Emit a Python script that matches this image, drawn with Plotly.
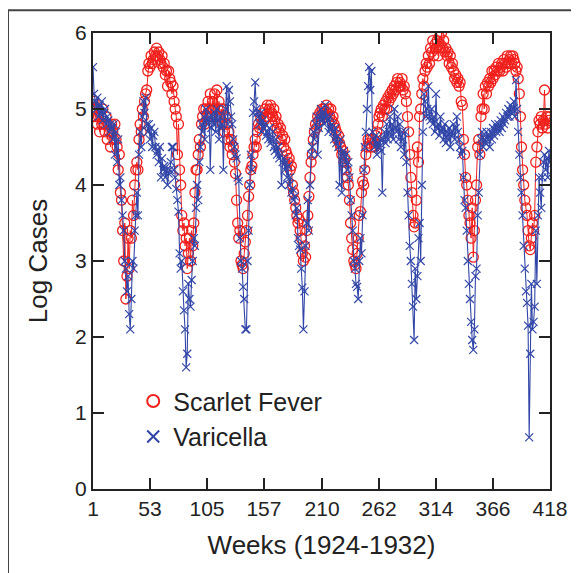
import plotly.graph_objects as go

weeks = list(range(1, 419))

scarlet_fever = [
    5.0, 5.1, 4.9, 5.0, 4.8, 4.9, 4.7, 4.9, 4.8, 5.0,
    4.8, 4.7, 4.9, 4.6, 4.8, 4.7, 4.5, 4.8, 4.7, 4.6,
    4.8, 4.6, 4.5, 4.2, 4.4, 3.9, 3.8, 3.4, 3.0, 3.5,
    2.5, 2.8, 3.3, 2.9, 3.4, 3.3, 3.8, 3.6, 4.0, 4.2,
    4.3, 4.2, 4.6, 4.8, 4.7, 5.0, 4.9, 5.1, 5.2, 5.25,
    5.5, 5.6, 5.55, 5.7, 5.6, 5.65, 5.75, 5.7, 5.8, 5.7,
    5.75, 5.65, 5.6, 5.7, 5.55, 5.6, 5.45, 5.5, 5.3, 5.5,
    5.4, 5.35, 5.2, 5.3, 5.1, 5.0, 4.9, 4.4, 4.8, 4.2,
    4.0, 3.6, 3.4, 3.5, 3.2, 3.3, 2.9, 3.1, 3.3, 3.0,
    3.4, 3.2, 3.5, 3.9, 4.2, 4.2, 4.4, 4.6, 4.5, 4.8,
    4.9, 5.0, 4.8, 5.0, 4.9, 5.1, 5.0, 5.2, 4.9, 5.1,
    5.0, 5.2, 4.9, 5.25, 5.0, 5.1, 4.9, 5.0, 4.8, 5.0,
    4.7, 4.9, 4.8, 4.6, 4.7, 4.5, 4.6, 4.4, 4.5, 4.3,
    4.15, 3.8, 3.5, 3.3, 3.4, 3.0, 2.95, 2.9, 3.1, 3.25,
    3.4, 3.6, 3.85, 4.0, 4.2, 4.25, 4.4, 4.5, 4.6, 4.5,
    4.7, 4.8, 4.75, 4.9, 4.8, 4.95, 4.85, 5.0, 4.9, 5.05,
    4.9, 5.0, 5.05, 4.95, 4.9, 5.0, 4.85, 4.9, 4.75, 4.8,
    4.7, 4.75, 4.6, 4.65, 4.5, 4.6, 4.45, 4.4, 4.3, 4.35,
    4.2, 4.25, 4.0, 3.9, 3.8, 3.7, 3.6, 3.5, 3.55, 3.4,
    3.3, 3.1, 3.0, 3.2, 3.05, 3.4, 3.6, 3.85, 4.1, 4.3,
    4.4, 4.6, 4.7, 4.8, 4.75, 4.9, 4.85, 4.95, 4.9, 5.0,
    4.95, 5.0, 4.9, 5.05, 4.95, 5.0, 4.9, 5.0, 4.85, 4.9,
    4.8, 4.75, 4.7, 4.6, 4.65, 4.55, 4.5, 4.4, 4.45, 4.3,
    4.35, 4.2, 4.1, 4.0, 3.8, 3.5, 3.3, 3.15, 3.0, 2.95,
    2.9, 3.1, 3.3, 3.6, 3.65, 3.9, 4.05, 4.0, 4.2, 4.4,
    4.5, 4.6, 4.55, 4.6, 4.5, 4.6, 4.55, 4.5, 4.65, 4.7,
    4.8, 4.9, 4.95, 5.0, 4.9, 5.05, 5.0, 5.1, 5.0, 5.15,
    5.1, 5.2, 5.15, 5.25, 5.2, 5.3, 5.25, 5.35, 5.4, 5.3,
    5.35, 5.3, 5.4, 5.25, 5.3, 5.2, 5.1, 4.9, 4.7, 4.4,
    4.1, 3.9, 3.6, 3.45, 3.5, 3.8, 4.5, 4.3, 4.9, 5.0,
    5.2, 5.4, 5.3, 5.5, 5.6, 5.55, 5.7, 5.6, 5.8, 5.75,
    5.9, 5.7, 5.85, 5.8, 5.9, 5.7, 5.95, 5.85, 6.0, 5.8,
    5.9, 5.75, 5.8, 5.7, 5.75, 5.6, 5.7, 5.55, 5.6, 5.5,
    5.4, 5.45, 5.35, 5.4, 5.3, 5.35, 5.1, 5.05, 4.6, 4.4,
    4.1, 4.0, 3.8, 3.6, 3.5, 3.3, 3.7, 3.05, 3.4, 3.8,
    4.0, 4.5, 4.6, 4.4, 4.9, 5.0, 5.2, 5.0, 5.3, 5.2,
    5.35, 5.3, 5.4, 5.35, 5.5, 5.4, 5.5, 5.45, 5.55, 5.5,
    5.6, 5.5, 5.55, 5.6, 5.5, 5.65, 5.6, 5.55, 5.7, 5.6,
    5.65, 5.7, 5.6, 5.7, 5.65, 5.6, 5.5, 5.55, 5.4, 5.2,
    4.9, 4.5, 4.2, 4.0, 3.8, 3.7, 3.6, 3.4, 3.2, 3.15,
    3.3, 3.5, 3.4, 3.6, 4.3, 4.5, 4.7, 4.85, 4.8, 4.9,
    4.75, 4.85, 5.25, 4.8, 4.9, 4.75, 4.85, 4.9,
]

varicella = [
    5.55, 5.2, 5.1, 5.0, 5.15, 4.9, 5.05, 4.95, 5.1, 4.85,
    4.95, 5.0, 4.8, 4.9, 4.85, 4.7, 4.8, 4.75, 4.6, 4.8,
    4.4, 4.7, 4.3, 4.6, 4.0, 4.1, 3.8, 3.6, 3.4, 3.0,
    2.9, 2.6, 2.8, 2.3, 2.1, 2.5, 3.0, 2.9, 3.4, 3.6,
    3.9, 3.6, 4.4, 4.7, 4.5, 4.9, 5.1, 4.95, 5.15, 4.8,
    4.7, 4.8, 4.6, 4.75, 4.5, 4.65, 4.7, 4.5, 4.4, 4.45,
    4.3, 4.5, 4.1, 4.35, 4.2, 4.25, 4.1, 4.2, 4.0, 4.15,
    4.2, 4.3, 4.5, 4.5, 4.2, 4.1, 3.95, 3.8, 3.65, 3.1,
    2.9, 3.0, 2.6, 2.35, 2.1, 1.6, 1.78, 2.7, 2.5, 2.4,
    2.75, 3.0, 3.3, 3.2, 3.7, 4.0, 3.8, 4.3, 4.5, 4.8,
    4.7, 4.9, 4.6, 5.0, 4.85, 4.8, 4.9, 4.2, 4.75, 4.9,
    4.8, 4.95, 4.7, 5.0, 4.85, 4.6, 4.9, 4.75, 4.8, 4.2,
    4.9, 5.0, 5.3, 4.8, 5.25, 5.1, 4.9, 4.8, 4.6, 4.5,
    4.4, 4.35, 4.1, 4.05, 3.3, 3.0, 2.9, 2.66, 2.5, 2.1,
    2.1, 3.0, 3.4, 4.0, 4.4, 4.2, 4.95, 5.1, 5.35, 5.0,
    4.95, 4.9, 4.8, 4.95, 4.7, 4.85, 4.75, 4.8, 4.65, 4.7,
    4.6, 4.75, 4.55, 4.6, 4.7, 4.5, 4.45, 4.6, 4.4, 4.5,
    4.35, 4.4, 4.0, 4.3, 4.35, 4.2, 4.3, 4.1, 4.25, 4.0,
    4.1, 3.9, 3.95, 3.8, 3.85, 3.6, 3.7, 3.3, 3.2, 3.15,
    2.9, 2.65, 2.1, 2.6, 3.2, 3.5, 3.8, 3.4, 4.0, 4.4,
    4.5, 4.7, 4.6, 4.8, 4.9, 4.4, 4.75, 4.9, 5.0, 4.85,
    4.95, 4.8, 5.05, 4.9, 4.85, 4.7, 4.9, 4.75, 4.8, 4.7,
    4.6, 4.75, 4.55, 4.65, 4.5, 4.0, 4.6, 3.9, 4.4, 4.45,
    4.3, 4.4, 4.2, 4.3, 4.1, 3.8, 3.6, 3.4, 3.0, 2.9,
    2.7, 2.66, 2.5, 3.0, 3.3, 3.1, 3.6, 4.2, 4.5, 4.7,
    5.0, 5.3, 5.55, 5.25, 5.5, 4.7, 4.6, 4.5, 4.65, 4.4,
    4.55, 4.5, 4.6, 4.45, 3.9, 4.6, 4.7, 4.55, 4.8, 4.6,
    4.7, 4.9, 4.65, 4.8, 4.6, 5.0, 4.75, 4.7, 4.9, 4.6,
    4.8, 4.5, 4.7, 4.6, 4.4, 4.7, 4.3, 3.9, 3.6, 3.2,
    3.0, 2.7, 2.4, 1.96, 2.9, 2.5, 2.8, 3.3, 3.5, 3.0,
    4.0, 4.7, 5.2, 5.1, 4.9, 5.0, 5.3, 4.9, 4.85, 5.0,
    4.8, 4.9, 4.7, 5.2, 4.75, 4.8, 4.65, 4.9, 4.7, 4.75,
    4.6, 4.8, 4.55, 4.7, 4.6, 4.75, 4.5, 4.7, 4.65, 4.8,
    4.6, 4.75, 4.9, 4.7, 4.6, 4.5, 4.4, 4.45, 4.1, 3.8,
    3.7, 3.4, 3.0, 2.7, 2.5, 2.2, 1.96, 1.83, 2.1, 2.8,
    2.9, 3.6, 3.9, 4.4, 4.6, 4.7, 4.5, 4.6, 4.55, 4.7,
    4.6, 4.65, 4.5, 4.7, 4.6, 4.75, 4.65, 4.8, 4.7, 4.75,
    4.8, 4.7, 4.85, 4.75, 4.9, 4.8, 4.85, 4.95, 4.9, 5.0,
    4.9, 5.05, 4.95, 5.0, 5.1, 4.9, 5.38, 5.0, 4.7, 4.4,
    4.1, 3.9, 3.6, 3.2, 2.9, 2.6, 2.45, 2.15, 0.68, 1.78,
    2.7, 2.1, 2.2, 2.4, 3.4, 2.7, 3.6, 4.1, 3.9, 3.7,
    4.1, 4.3, 4.4, 4.2, 4.35, 4.1, 4.45, 4.3,
]

x_ticks = [1, 53, 105, 157, 210, 262, 314, 366, 418]
y_ticks = [0, 1, 2, 3, 4, 5, 6]

RED = "#f0201c"
BLUE = "#3246a8"
FONT = "Liberation Sans, Arial, sans-serif"
TXT = "#222"

fig = go.Figure()
fig.add_trace(go.Scatter(x=weeks, y=scarlet_fever, mode="lines",
                         line=dict(color=RED, width=1), showlegend=False, hoverinfo="skip"))
fig.add_trace(go.Scatter(x=weeks, y=scarlet_fever, mode="markers", name="Scarlet Fever",
                         marker=dict(symbol="circle-open", size=10, color=RED, line=dict(width=1.3))))
fig.add_trace(go.Scatter(x=weeks, y=varicella, mode="lines",
                         line=dict(color=BLUE, width=1.1), showlegend=False, hoverinfo="skip"))
fig.add_trace(go.Scatter(x=weeks, y=varicella, mode="markers", name="Varicella",
                         marker=dict(symbol="x-thin-open", size=8, color=BLUE, line=dict(width=1.2, color=BLUE))))

axis_common = dict(showline=True, linecolor=TXT, linewidth=2, mirror="ticks",
                   ticks="inside", ticklen=11, tickwidth=2, tickcolor=TXT,
                   showgrid=False, zeroline=False, automargin=False,
                   tickfont=dict(family=FONT, size=21, color=TXT))

fig.update_xaxes(range=[1, 418], tickvals=x_ticks, ticktext=[str(t) for t in x_ticks],
                 title=dict(text="Weeks (1924-1932)", font=dict(family=FONT, size=26, color=TXT), standoff=17),
                 **axis_common)
fig.update_yaxes(range=[0, 6], tickvals=y_ticks,
                 title=dict(text="Log Cases", font=dict(family=FONT, size=26, color=TXT), standoff=20),
                 **axis_common)

# outer frame of the original figure
fig.add_shape(type="rect", xref="paper", yref="paper", x0=-0.186, x1=2, y0=-1, y1=1.05,
              line=dict(color="#444", width=2), layer="below")

fig.update_layout(
    width=579, height=573,
    margin=dict(l=85, r=37, t=25, b=92),
    paper_bgcolor="white", plot_bgcolor="white",
    font=dict(family=FONT, color=TXT),
    legend=dict(x=0.088, y=0.243, xanchor="left", yanchor="top",
                font=dict(family=FONT, size=25, color=TXT),
                bgcolor="rgba(0,0,0,0)", itemsizing="constant", tracegroupgap=0),
)

fig.write_html("out.html")
